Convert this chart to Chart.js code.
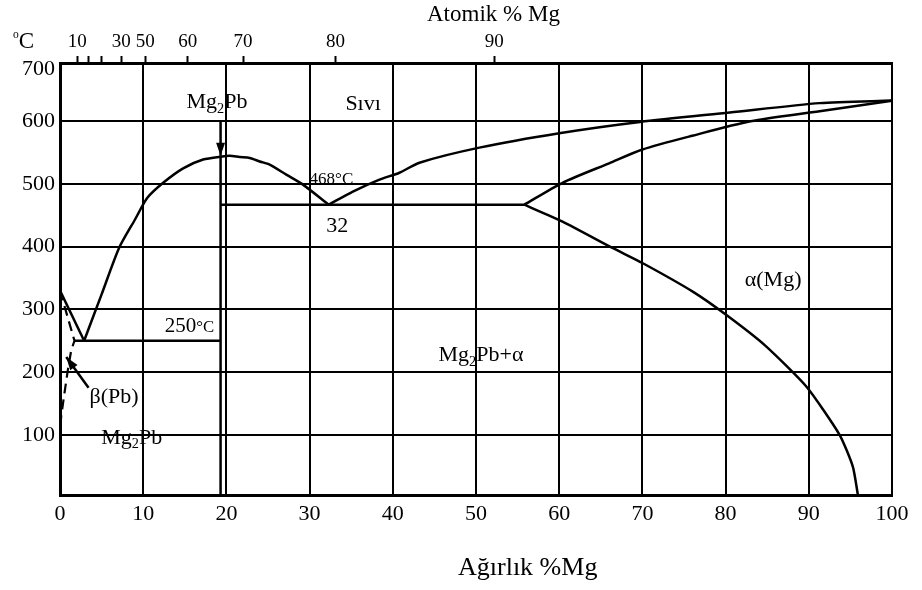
<!DOCTYPE html>
<html>
<head>
<meta charset="utf-8">
<script src="https://cdn.jsdelivr.net/npm/chart.js@4.4.1/dist/chart.umd.min.js"></script>
<style>
  body { margin: 0; background: #fff; }
</style>
</head>
<body>
<canvas id="phaseChart" width="922" height="590"></canvas>
<script>
const FONT = '"Liberation Serif", "Times New Roman", serif';

// [ağırlık % Mg, °C]
const pbLiquidus = [[0, 330], [2.9, 250]];
const mg2pbLiquidus = [[2.9, 250], [5, 324], [7.1, 398], [9, 443], [10.5, 478], [12.4, 502], [14.8, 525], [17.2, 539],
  [19.5, 544], [20.4, 545], [21.6, 543], [22.8, 541.5], [24, 536], [25.2, 531], [27.2, 515], [29.2, 499], [32.3, 467]];
const mgLiquidus = [[32.3, 467], [35.2, 488], [38.4, 507], [40.8, 518], [43.2, 534], [50.4, 558], [60, 581],
  [69.7, 599], [80.5, 614], [91.3, 629], [100, 633]];
const mgSolidus = [[55.8, 467], [60.4, 502], [66, 533], [70, 555], [76, 577], [83, 600], [91.3, 616], [100, 633]];
const mgSolvus = [[55.8, 467], [60.4, 440], [66.4, 398], [70, 374], [76.1, 328], [80.1, 291], [84.7, 243],
  [89.7, 177], [93.7, 100], [95.3, 49], [95.9, 4]];
const pbSolvus = [[0, 330], [1.74, 250], [1.35, 235], [0.94, 203], [0.54, 167], [0.14, 129], [0, 105]];
const eutecticMg = [[19.3, 467], [55.8, 467]];
const eutecticPb = [[1.74, 250], [19.3, 250]];
const mg2pbLine = [[19.3, 545], [19.3, 4]];
const mg2pbArrow = [[19.3, 600], [19.3, 545]];
const betaArrow = [[3.43, 175], [0.75, 224]];

// eksenler
const tempTicks = [100, 200, 300, 400, 500, 600, 683];
const tempLabels = ['100', '200', '300', '400', '500', '600', '700'];
const atomTickPos = [2.07, 3.46, 4.95, 7.36, 10.24, 15.35, 22.0, 33.1, 52.2];
const atomTickLabels = ['10', '', '', '30', '50', '60', '70', '80', '90'];

// bölge etiketleri (_ = alt simge, | = küçük yazı)
const noteText = ['Mg_2Pb', 'Sıvı', '468°C', '32', '250|°C', 'β(Pb)', 'Mg_2Pb', 'Mg_2Pb+α', 'α(Mg)'];
const noteX = [15.2, 34.3, 30.0, 32.0, 12.6, 3.55, 4.95, 45.5, 82.3];
const noteY = [621, 618.5, 500.5, 424, 264.5, 150, 86, 218, 337.5];
const noteSize = [22, 22, 17, 22, 21, 22, 22, 22, 22];

const pts = arr => arr.map(p => ({ x: p[0], y: p[1] }));

function line(data, extra) {
  return Object.assign({
    data: pts(data),
    showLine: true,
    borderColor: '#000',
    borderWidth: 2.5,
    pointRadius: 0,
    fill: false,
    tension: 0
  }, extra || {});
}

function drawRich(ctx, str, x, y, size) {
  let cx = x, small = false;
  for (let i = 0; i < str.length; i++) {
    let ch = str[i];
    if (ch === '|') { small = true; continue; }
    let s = small ? size * 0.8 : size, dy = 0;
    if (ch === '_') { ch = str[++i]; s = size * 0.65; dy = size * 0.22; }
    else if (ch === '^') { ch = str[++i]; s = size * 0.5; dy = -size * 0.45; }
    ctx.font = s + 'px ' + FONT;
    ctx.fillText(ch, cx, y + dy);
    cx += ctx.measureText(ch).width;
  }
}

const arrowHeads = {
  id: 'arrowHeads',
  afterDatasetsDraw(chart) {
    const ctx = chart.ctx;
    chart.data.datasets.forEach((ds, i) => {
      if (!ds.arrow) return;
      const el = chart.getDatasetMeta(i).data;
      const a = el[el.length - 2], b = el[el.length - 1];
      const ang = Math.atan2(b.y - a.y, b.x - a.x);
      const len = 13, half = 4.5;
      ctx.save();
      ctx.fillStyle = '#000';
      ctx.beginPath();
      ctx.moveTo(b.x, b.y);
      ctx.lineTo(b.x - len * Math.cos(ang) + half * Math.sin(ang), b.y - len * Math.sin(ang) - half * Math.cos(ang));
      ctx.lineTo(b.x - len * Math.cos(ang) - half * Math.sin(ang), b.y - len * Math.sin(ang) + half * Math.cos(ang));
      ctx.closePath();
      ctx.fill();
      ctx.restore();
    });
  }
};

const textLayer = {
  id: 'textLayer',
  afterDraw(chart) {
    const ctx = chart.ctx, sx = chart.scales.x, sy = chart.scales.y;
    ctx.save();
    ctx.fillStyle = '#000';
    ctx.textBaseline = 'alphabetic';
    ctx.textAlign = 'left';
    noteText.forEach((t, i) => {
      drawRich(ctx, t, sx.getPixelForValue(noteX[i]), sy.getPixelForValue(noteY[i]), noteSize[i]);
    });
    drawRich(ctx, '^oC', 13, 48, 23);
    drawRich(ctx, 'Atomik % Mg', 427, 21, 23);
    drawRich(ctx, 'Ağırlık %Mg', 458, 575, 26);
    ctx.restore();
  }
};

new Chart(document.getElementById('phaseChart'), {
  type: 'scatter',
  data: {
    datasets: [
      line(pbLiquidus),
      line(mg2pbLiquidus, { tension: 0.25 }),
      line(mgLiquidus, { tension: 0.25 }),
      line(mgSolidus, { tension: 0.25 }),
      line(mgSolvus, { tension: 0.2 }),
      line(pbSolvus, { borderDash: [10, 6], borderWidth: 2.2 }),
      line(eutecticMg),
      line(eutecticPb),
      line(mg2pbLine),
      line(mg2pbArrow, { arrow: true }),
      line(betaArrow, { arrow: true })
    ]
  },
  options: {
    responsive: false,
    animation: false,
    layout: { padding: { left: 0, right: 30, top: 0, bottom: 0 } },
    plugins: { legend: { display: false }, tooltip: { enabled: false } },
    scales: {
      x: {
        type: 'linear', position: 'bottom', min: 0, max: 100,
        ticks: { stepSize: 10, color: '#000', font: { family: FONT, size: 22 }, padding: 6, maxRotation: 0, autoSkip: false },
        grid: { color: '#000', lineWidth: 2, drawTicks: false },
        border: { color: '#000', width: 3 },
        afterFit: s => { s.height = 95; }
      },
      xTop: {
        type: 'linear', position: 'top', min: 0, max: 100,
        afterBuildTicks: s => { s.ticks = atomTickPos.map(v => ({ value: v })); },
        ticks: { callback: (v, i) => atomTickLabels[i], color: '#000', font: { family: FONT, size: 19 }, padding: 3, autoSkip: false, maxRotation: 0 },
        grid: { drawOnChartArea: false, drawTicks: true, tickLength: 7, tickWidth: 2, tickColor: '#000' },
        border: { color: '#000', width: 3 },
        afterFit: s => { s.height = 63; }
      },
      y: {
        type: 'linear', min: 4, max: 693,
        afterBuildTicks: s => { s.ticks = tempTicks.map(v => ({ value: v })); },
        ticks: { callback: (v, i) => tempLabels[i], color: '#000', font: { family: FONT, size: 22 }, padding: 5 },
        grid: { color: c => (c.tick && c.tick.value === 683) ? 'rgba(0,0,0,0)' : '#000', lineWidth: 2, drawTicks: false },
        border: { color: '#000', width: 3 },
        afterFit: s => { s.width = 60; }
      }
    }
  },
  plugins: [arrowHeads, textLayer]
});
</script>
</body>
</html>
